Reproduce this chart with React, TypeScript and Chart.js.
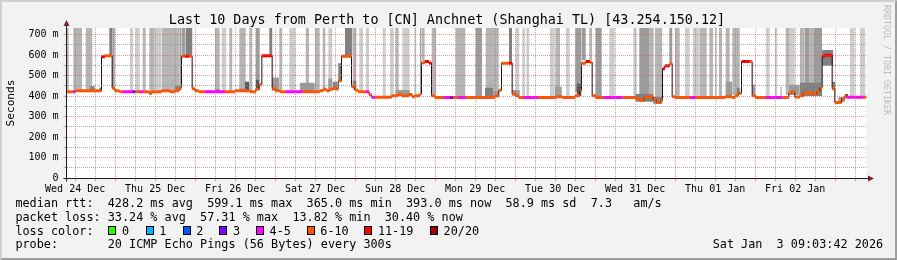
import React, { useEffect, useRef } from 'react';
import { Chart, registerables } from 'chart.js';

Chart.register(...registerables);

const FONT = "'DejaVu Sans Mono', monospace";

// ---- time axis (hours since Wed 24 Dec 00:00) ----
const xMin = 9.4;
const xMax = 249.4;
const dayLabels = ['Wed 24 Dec', 'Thu 25 Dec', 'Fri 26 Dec', 'Sat 27 Dec', 'Sun 28 Dec', 'Mon 29 Dec', 'Tue 30 Dec', 'Wed 31 Dec', 'Thu 01 Jan', 'Fri 02 Jan'];
const dayLabelHours = [12, 36, 60, 84, 108, 132, 156, 180, 204, 228];
const gridHours: number[] = [];
for (let h = 12; h <= 246; h += 6) gridHours.push(h);

// ---- value axis (ms) ----
const yMax = 732;
const yTickValues = [0, 50, 100, 150, 200, 250, 300, 350, 400, 450, 500, 550, 600, 650, 700];
const yTickLabels = ['0', '', '100 m', '', '200 m', '', '300 m', '', '400 m', '', '500 m', '', '600 m', '', '700 m'];

// ---- loss colour classes ----
const lossLabels = ['0', '1', '2', '3', '4-5', '6-10', '11-19', '20/20'];
const lossColors = ['#26ff00', '#00b8ff', '#0059ff', '#7e00ff', '#ff00ff', '#ff5500', '#ff0000', '#a10000'];

// ---- median rtt steps: start hour, value (ms), loss class ----
const medStart = [9.4, 11.4, 12.1, 19.9, 20.9, 23.1, 23.9, 25.3, 26.2, 29.1, 30.1, 31.4, 32.4, 34.1, 35.1, 37.9, 40.4, 41.9, 43.1, 43.6, 43.9, 44.9, 46.2, 47.1, 47.9, 49.1, 50.9, 56.9, 59.9, 64.4, 66.2, 67.2, 68.0, 71.1, 72.1, 73.4, 75.2, 80.2, 85.4, 86.4, 87.4, 88.4, 89.4, 90.4, 90.9, 91.9, 94.9, 95.9, 96.9, 99.2, 100.2, 100.9, 102.0, 106.9, 108.9, 109.9, 112.1, 113.1, 113.9, 115.4, 115.9, 116.9, 118.1, 118.9, 119.9, 122.4, 124.4, 125.4, 126.9, 129.1, 137.9, 139.1, 139.9, 142.1, 143.1, 144.1, 145.1, 146.4, 150.9, 156.4, 158.2, 161.9, 163.4, 163.9, 165.2, 166.4, 167.1, 168.2, 170.4, 176.2, 180.1, 181.4, 182.6, 183.9, 185.4, 186.4, 187.6, 188.2, 188.9, 190.4, 191.1, 192.1, 196.4, 198.2, 206.9, 209.1, 209.9, 210.9, 211.9, 214.4, 215.1, 216.1, 219.2, 224.2, 226.1, 226.9, 227.9, 229.4, 230.4, 231.9, 233.4, 234.4, 235.4, 236.1, 236.9, 239.1, 239.9, 241.9, 242.9, 243.4, 248.4];
const medValue = [421, 421, 426, 592, 597, 438, 426, 421, 421, 421, 421, 421, 421, 417, 421, 426, 421, 426, 433, 440, 594, 594, 594, 436, 426, 421, 421, 421, 426, 421, 433, 455, 597, 436, 426, 421, 421, 421, 426, 433, 426, 433, 438, 433, 474, 594, 446, 430, 421, 421, 406, 394, 394, 401, 407, 401, 408, 397, 401, 410, 563, 569, 561, 401, 393, 393, 393, 393, 393, 393, 401, 428, 560, 560, 410, 401, 393, 393, 393, 397, 393, 401, 428, 560, 569, 565, 401, 393, 393, 393, 387, 379, 393, 397, 381, 368, 379, 533, 548, 558, 397, 393, 393, 393, 397, 393, 401, 413, 568, 568, 401, 393, 393, 393, 413, 421, 395, 401, 413, 416, 409, 421, 441, 594, 599, 436, 368, 387, 401, 394, 394];
const medLoss = [5, 4, 5, 6, 5, 5, 5, 5, 4, 3, 5, 4, 5, 5, 5, 5, 5, 5, 5, 5, 5, 6, 5, 5, 5, 5, 4, 5, 5, 5, 5, 5, 6, 5, 5, 5, 4, 5, 5, 5, 5, 5, 5, 5, 5, 5, 5, 5, 5, 4, 5, 4, 5, 5, 5, 5, 5, 5, 5, 5, 5, 6, 6, 5, 5, 4, 3, 5, 4, 5, 5, 5, 5, 6, 5, 5, 5, 4, 5, 5, 5, 5, 5, 5, 6, 5, 5, 5, 4, 5, 5, 5, 5, 5, 5, 5, 5, 6, 6, 5, 5, 5, 4, 5, 5, 5, 5, 5, 6, 5, 5, 5, 4, 5, 5, 5, 5, 5, 5, 5, 5, 5, 5, 6, 6, 5, 5, 5, 5, 4, 5];

// ---- smoke: start hour, end hour, low ms, high ms, shade ----
const smokeStart = [9.4, 11.4, 15.1, 22.2, 23.1, 28.4, 30.1, 32.2, 34.2, 35.9, 37.9, 43.4, 43.9, 45.1, 53.9, 55.9, 58.2, 61.2, 64.2, 66.2, 70.2, 73.2, 76.2, 81.1, 83.9, 86.2, 87.9, 92.9, 95.2, 97.2, 99.2, 104.2, 106.4, 108.1, 110.1, 113.7, 115.4, 115.9, 118.9, 126.1, 132.1, 135.1, 142.1, 144.1, 146.1, 147.3, 154.4, 156.1, 159.2, 162.0, 163.9, 166.2, 168.1, 172.2, 179.4, 181.2, 184.4, 186.0, 190.2, 191.9, 194.9, 197.2, 199.4, 202.2, 203.9, 205.1, 207.1, 209.1, 219.1, 221.9, 225.1, 226.4, 229.4, 230.9, 232.4, 233.4, 244.4, 247.4,
  16.4, 19.2, 34.2, 41.9, 53.9, 61.2, 62.9, 66.2, 71.1, 71.1, 79.4, 80.4, 87.9, 89.2, 90.9, 95.2, 108.1, 134.9, 137.4, 143.1, 155.9, 156.4, 162.4, 180.1, 185.4, 207.1, 207.6, 210.4, 215.1, 223.4, 226.1, 229.4, 236.1, 236.1, 239.1, 240.9, 242.9];
const smokeEnd = [10.1, 14.1, 17.2, 23.1, 23.9, 29.4, 31.4, 33.2, 35.9, 37.9, 43.4, 43.9, 45.1, 47.2, 55.4, 57.4, 59.2, 63.2, 65.2, 67.4, 71.2, 74.2, 78.1, 82.2, 85.4, 87.1, 89.2, 95.2, 96.4, 98.4, 100.2, 105.2, 107.6, 109.1, 112.4, 114.4, 115.9, 116.9, 120.3, 129.1, 134.1, 139.1, 143.1, 145.3, 147.0, 148.3, 155.9, 157.5, 160.4, 163.9, 165.2, 167.1, 170.0, 173.9, 180.5, 184.4, 185.6, 188.2, 191.2, 193.4, 196.4, 199.4, 201.5, 203.4, 204.6, 206.1, 208.4, 211.4, 220.4, 222.7, 226.4, 227.9, 230.9, 232.4, 233.4, 236.1, 245.9, 249.1,
  17.9, 19.9, 35.0, 43.6, 55.4, 62.9, 64.2, 67.2, 73.2, 72.1, 83.9, 83.4, 89.2, 90.6, 91.9, 96.4, 112.4, 137.4, 139.1, 145.4, 158.0, 157.6, 163.9, 185.4, 188.2, 209.1, 208.8, 211.4, 216.1, 224.2, 229.4, 236.1, 239.4, 237.1, 240.1, 242.9, 243.9];
const smokeLow = [421, 424, 428, 600, 440, 421, 421, 421, 412, 421, 424, 440, 600, 600, 421, 421, 421, 426, 421, 430, 600, 421, 421, 421, 421, 426, 426, 600, 430, 421, 421, 394, 401, 401, 404, 401, 410, 572, 401, 393, 393, 393, 565, 401, 393, 393, 393, 397, 393, 420, 575, 575, 393, 393, 390, 385, 385, 375, 560, 393, 393, 393, 393, 393, 393, 393, 397, 405, 393, 393, 405, 405, 395, 400, 400, 400, 394, 394,
  426, 426, 405, 426, 421, 424, 426, 438, 424, 430, 421, 421, 430, 430, 474, 440, 401, 395, 395, 401, 395, 397, 400, 372, 362, 400, 400, 410, 400, 400, 405, 400, 548, 580, 430, 370, 395];
const smokeHigh = [760, 760, 760, 760, 760, 760, 760, 760, 760, 760, 760, 760, 760, 760, 760, 760, 760, 760, 760, 760, 760, 760, 760, 760, 760, 760, 760, 760, 760, 760, 760, 760, 760, 760, 760, 760, 760, 760, 760, 760, 760, 760, 760, 760, 760, 760, 760, 760, 760, 760, 760, 760, 760, 760, 760, 760, 760, 760, 760, 760, 760, 760, 760, 760, 760, 760, 760, 760, 760, 760, 760, 760, 760, 760, 760, 760, 760, 760,
  448, 440, 421, 450, 432, 438, 470, 480, 490, 470, 465, 445, 485, 470, 560, 475, 430, 440, 425, 430, 445, 425, 460, 410, 395, 470, 440, 440, 455, 445, 455, 465, 625, 618, 470, 395, 410];
const smokeShade = [1, 1, 1, 3, 2, 0, 0, 1, 1, 0, 1, 2, 2, 3, 1, 0, 1, 1, 1, 2, 3, 1, 0, 1, 1, 1, 0, 3, 1, 0, 0, 0, 0, 1, 0, 0, 2, 1, 1, 1, 2, 1, 3, 0, 0, 0, 0, 1, 0, 2, 2, 1, 2, 0, 0, 2, 1, 1, 2, 1, 0, 0, 1, 1, 0, 1, 1, 1, 0, 0, 1, 0, 1, 2, 1, 2, 0, 0,
  3, 3, 3, 3, 3, 2, 4, 4, 2, 3, 2, 3, 2, 3, 3, 3, 2, 3, 2, 2, 2, 3, 4, 3, 3, 2, 3, 3, 2, 0, 2, 3, 3, 4, 3, 2, 4];
const smokeColors = ['#cdcdcd', '#b5b5b5', '#9c9c9c', '#808080', '#585858'];

// ---- legend texts ----
const titleText = 'Last 10 Days from Perth to [CN] Anchnet (Shanghai TL) [43.254.150.12]';
const medianStats = ['428.2 ms avg', '599.1 ms max', '365.0 ms min', '393.0 ms now', '58.9 ms sd', '7.3   am/s'];
const lossStats = ['33.24 % avg', '57.31 % max', '13.82 % min', '30.40 % now'];
const probeText = '20 ICMP Echo Pings (56 Bytes) every 300s';
const stampText = 'Sat Jan  3 09:03:42 2026';
const watermark = 'RRDTOOL / TOBI OETIKER';

const MAJOR = 'rgba(222,79,79,0.6)';
const MINOR = 'rgba(143,143,143,0.75)';

function buildDatasets() {
  const ds: any[] = [];
  [3, 4, 5, 6].forEach((c) => {
    const pts: any[] = [];
    medStart.forEach((s, i) => {
      if (medLoss[i] !== c) return;
      const e = i + 1 < medStart.length ? medStart[i + 1] : xMax;
      pts.push({ x: s, y: medValue[i] }, { x: e, y: medValue[i] }, { x: e, y: null });
    });
    ds.push({ data: pts, borderColor: lossColors[c], borderWidth: 3, pointRadius: 0, fill: false, spanGaps: false, order: 1, borderCapStyle: 'butt' });
  });
  const blk = medStart.map((s, i) => ({ x: s, y: medValue[i] }));
  blk.push({ x: xMax, y: medValue[medValue.length - 1] });
  ds.push({ data: blk, stepped: true, borderColor: '#111111', borderWidth: 1, pointRadius: 0, fill: false, order: 2 });
  smokeStart.forEach((s, i) => {
    ds.push({
      data: [{ x: s, y: smokeHigh[i] }, { x: smokeEnd[i], y: smokeHigh[i] }],
      fill: { value: smokeLow[i] },
      backgroundColor: smokeColors[smokeShade[i]],
      borderColor: 'rgba(0,0,0,0)',
      borderWidth: 0,
      pointRadius: 0,
      order: smokeHigh[i] > yMax ? 4 : 3,
    });
  });
  return ds;
}

const decor = {
  id: 'decor',
  beforeDraw(chart: any) {
    const { ctx, chartArea: a } = chart;
    ctx.save();
    ctx.fillStyle = '#ffffff';
    ctx.fillRect(a.left, a.top, a.right - a.left, a.bottom - a.top);
    ctx.restore();
  },
  afterDraw(chart: any) {
    const { ctx, chartArea: a, width: W, height: H } = chart;
    const bx = Math.round(a.left) - 0.5;
    const by = Math.round(a.bottom) + 0.5;
    ctx.save();
    ctx.strokeStyle = '#1f1f1f';
    ctx.lineWidth = 1;
    ctx.beginPath();
    ctx.moveTo(bx - 3, by);
    ctx.lineTo(a.right + 2, by);
    ctx.moveTo(bx, by + 3);
    ctx.lineTo(bx, a.top - 3);
    ctx.stroke();
    ctx.fillStyle = '#801f1f';
    ctx.beginPath();
    ctx.moveTo(a.right + 1.5, by - 3);
    ctx.lineTo(a.right + 7.5, by);
    ctx.lineTo(a.right + 1.5, by + 3);
    ctx.closePath();
    ctx.fill();
    ctx.beginPath();
    ctx.moveTo(bx - 3, a.top - 2);
    ctx.lineTo(bx, a.top - 8);
    ctx.lineTo(bx + 3, a.top - 2);
    ctx.closePath();
    ctx.fill();
    ctx.fillStyle = '#cfcfcf';
    ctx.beginPath();
    ctx.moveTo(0, H); ctx.lineTo(2, H - 2); ctx.lineTo(2, 2); ctx.lineTo(W - 2, 2); ctx.lineTo(W, 0); ctx.lineTo(0, 0);
    ctx.closePath(); ctx.fill();
    ctx.fillStyle = '#9e9e9e';
    ctx.beginPath();
    ctx.moveTo(2, H - 2); ctx.lineTo(W - 2, H - 2); ctx.lineTo(W - 2, 2); ctx.lineTo(W, 0); ctx.lineTo(W, H); ctx.lineTo(0, H);
    ctx.closePath(); ctx.fill();
    ctx.restore();
  },
};

function T(props: { x: number; base: number; size: number; children: any; color?: string }) {
  const { x, base, size, children, color } = props;
  return (
    <div style={{ position: 'absolute', left: x, top: base - 0.846 * size, fontSize: size, lineHeight: `${size}px`, whiteSpace: 'pre', color: color || '#000', fontFamily: FONT }}>
      {children}
    </div>
  );
}

const lossBoxX = [108.3, 145.7, 182.7, 219.3, 256, 306.7, 364.3, 430];

export default function App() {
  const ref = useRef<HTMLCanvasElement>(null);
  useEffect(() => {
    document.body.style.margin = '0';
    const dash = (c: any) => (c.type === 'tick' ? [1, 1] : []);
    const chart = new Chart(ref.current as HTMLCanvasElement, {
      type: 'line',
      data: { datasets: buildDatasets() },
      plugins: [decor],
      options: {
        animation: false,
        responsive: false,
        events: [],
        layout: { padding: { left: 0, right: 30.5, top: 28, bottom: 0 }, autoPadding: false },
        plugins: { legend: { display: false }, tooltip: { enabled: false }, title: { display: false } },
        scales: {
          x: {
            type: 'linear',
            min: xMin,
            max: xMax,
            afterBuildTicks: (s: any) => { s.ticks = gridHours.map((v) => ({ value: v })); },
            afterFit: (s: any) => { s.height = 82; },
            ticks: {
              autoSkip: false, maxRotation: 0, minRotation: 0, padding: 2, color: '#000',
              font: { family: FONT, size: 10 },
              callback: (v: any) => { const i = dayLabelHours.indexOf(Number(v)); return i >= 0 ? dayLabels[i] : ''; },
            },
            grid: {
              z: 1, lineWidth: 1, tickLength: 3,
              color: (c: any) => (c.tick && c.tick.value % 24 === 0 ? MAJOR : MINOR),
              tickColor: (c: any) => (c.tick && c.tick.value % 24 === 0 ? MAJOR : MINOR),
            },
            border: { display: true, color: '#1f1f1f', width: 1, z: 2, dash },
          },
          y: {
            type: 'linear',
            min: 0,
            max: yMax,
            afterBuildTicks: (s: any) => { s.ticks = yTickValues.map((v) => ({ value: v })); },
            afterFit: (s: any) => { s.width = 66.5; },
            ticks: {
              autoSkip: false, padding: 5, color: '#000',
              font: { family: FONT, size: 10 },
              callback: (v: any) => { const i = yTickValues.indexOf(Number(v)); return i >= 0 ? yTickLabels[i] : ''; },
            },
            grid: {
              z: 1, lineWidth: 1, tickLength: 3,
              color: (c: any) => (c.tick && c.tick.value % 100 === 0 ? MAJOR : MINOR),
              tickColor: (c: any) => (c.tick && c.tick.value % 100 === 0 ? MAJOR : MINOR),
            },
            border: { display: true, color: '#1f1f1f', width: 1, z: 2, dash },
            title: { display: true, text: 'Seconds', color: '#000', font: { family: FONT, size: 11.2 }, padding: { top: 4.3, bottom: 0 } },
          },
        },
      } as any,
    });
    return () => chart.destroy();
  }, []);

  const LB = 207.7;
  const LS = 13.9;
  return (
    <div style={{ position: 'relative', width: 897, height: 260, background: '#f2f2f2', overflow: 'hidden', fontFamily: FONT }}>
      <canvas ref={ref} width={897} height={260} style={{ position: 'absolute', left: 0, top: 0, width: 897, height: 260 }} />
      <div style={{ position: 'absolute', left: 0, width: 894, top: 24 - 0.846 * 13.4, textAlign: 'center', fontSize: 13.4, lineHeight: '13.4px', whiteSpace: 'pre', color: '#000', fontFamily: FONT }}>
        {titleText}
      </div>
      <div style={{ position: 'absolute', left: 882.4, top: 4.5, fontSize: 8.3, lineHeight: '8.3px', writingMode: 'vertical-rl', whiteSpace: 'pre', color: '#bbbbbb', fontFamily: FONT }}>
        {watermark}
      </div>
      <T x={15.4} base={LB} size={11.8}>{'median rtt:  ' + medianStats.join('  ')}</T>
      <T x={15.4} base={LB + LS} size={11.8}>{'packet loss: ' + lossStats.join('  ')}</T>
      <T x={15.4} base={LB + 2 * LS} size={11.8}>{'loss color:'}</T>
      {lossLabels.map((l, i) => (
        <React.Fragment key={l}>
          <div style={{ position: 'absolute', left: lossBoxX[i], top: LB + 2 * LS - 9.3, width: 8, height: 9, boxSizing: 'border-box', border: '1px solid #000', background: lossColors[i] }} />
          <T x={lossBoxX[i] + 13.6} base={LB + 2 * LS} size={11.8}>{l}</T>
        </React.Fragment>
      ))}
      <T x={15.4} base={LB + 3 * LS} size={11.8}>{'probe:       ' + probeText}</T>
      <T x={712.7} base={LB + 3 * LS} size={11.8}>{stampText}</T>
    </div>
  );
}
